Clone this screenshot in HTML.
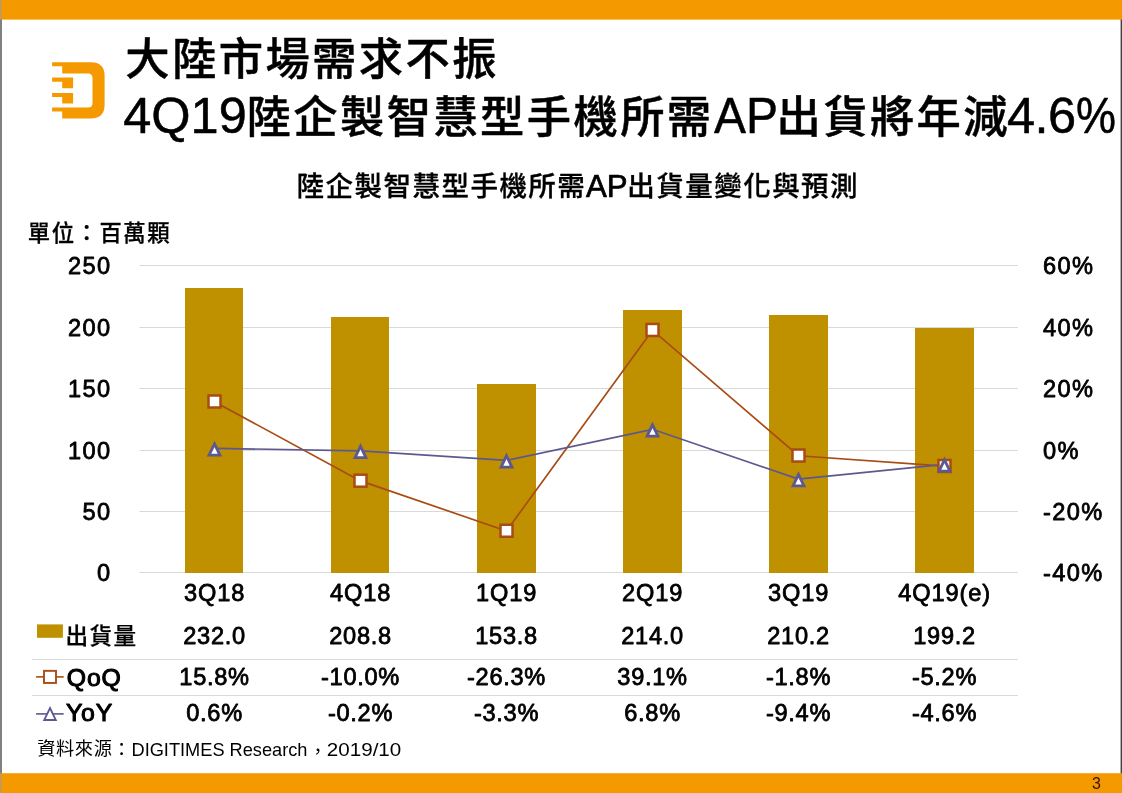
<!DOCTYPE html>
<html lang="zh-Hant">
<head>
<meta charset="utf-8">
<title>大陸市場需求不振 4Q19陸企製智慧型手機所需AP出貨將年減4.6%</title>
<style>
html,body{margin:0;padding:0;background:#fff;}
body{width:1122px;height:793px;overflow:hidden;position:relative;}
svg{display:block;position:absolute;left:0;top:0;}
text{font-family:"Liberation Sans","Noto Sans CJK TC",sans-serif;fill:#000;}
.cj{font-family:"Liberation Sans","Noto Sans CJK TC",sans-serif;font-weight:500;stroke:#000;stroke-linejoin:round;}
.lt{stroke:#000;stroke-linejoin:round;}
.ax{font-size:23.6px;letter-spacing:1.4px;stroke:#000;stroke-width:0.8;stroke-linejoin:round;}
</style>
</head>
<body>
<svg width="1122" height="793" viewBox="0 0 1122 793">
<rect x="0" y="0" width="1122" height="793" fill="#fff"/>
<rect x="0" y="0" width="2" height="793" fill="#808080"/>
<rect x="1120.6" y="0" width="1.4" height="793" fill="#404040"/>
<rect x="2" y="0" width="1120" height="19.6" fill="#F59900"/>
<rect x="0" y="0" width="2" height="19.6" fill="#C99A4A"/>
<rect x="2" y="773.2" width="1120" height="19.8" fill="#F59900"/>
<rect x="0" y="773.2" width="2" height="19.8" fill="#C99A4A"/>
<g fill="#F59900">
<path fill-rule="evenodd" d="M52.1 62.3 H91 Q104.6 62.3 104.6 76 V104.8 Q104.6 118.4 91 118.4 H62.2 V111.5 H52.1 V107.5 H88 Q92.5 107.5 92.5 103 V78 Q92.5 73.4 88 73.4 H62.2 V66.3 H52.1 Z"/>
<path d="M52.1 77.4 H73.1 V88.3 H62.2 V81.8 H52.1 Z"/>
<path d="M52.1 92.9 H73.1 V103.5 H62.2 V96.9 H52.1 Z"/>
</g>
<text x="125.3" y="75" style="font-size:44.3px;letter-spacing:2.4px;stroke-width:0.45" class="cj">大陸市場需求不振</text>
<text style="font-size:44.3px"><tspan x="123.2" y="133.4" class="lt" style="font-size:50.5px;stroke-width:0.5">4Q19</tspan><tspan x="246.6" y="133" class="cj" style="letter-spacing:2.4px;stroke-width:0.45">陸企製智慧型手機所需</tspan><tspan x="714" y="133.4" class="lt" style="font-size:50.5px;stroke-width:0.5" textLength="64" lengthAdjust="spacingAndGlyphs">AP</tspan><tspan x="776.5" y="133" class="cj" style="letter-spacing:2.4px;stroke-width:0.45">出貨將年減</tspan><tspan x="1007" y="133.4" class="lt" style="font-size:50.5px;stroke-width:0.5" textLength="69" lengthAdjust="spacing">4.6</tspan><tspan x="1076" y="133.4" class="lt" style="font-size:50.5px;stroke-width:0.5" textLength="40" lengthAdjust="spacingAndGlyphs">%</tspan></text>
<text style="font-size:27.5px"><tspan x="296.6" y="196" class="cj" style="letter-spacing:1.47px;stroke-width:0.3">陸企製智慧型手機所需</tspan><tspan x="586" y="196.5" class="lt" style="font-size:31.2px;stroke-width:0.7">AP</tspan><tspan x="627.3" y="196" class="cj" style="letter-spacing:1.47px;stroke-width:0.3">出貨量變化與預測</tspan></text>
<text x="27.8" y="241" class="cj" style="font-size:22.4px;letter-spacing:1.5px;stroke-width:0.25">單位：百萬顆</text>
<g fill="#D9D9D9">
<rect x="139.5" y="265" width="878.5" height="1"/>
<rect x="139.5" y="327" width="878.5" height="1"/>
<rect x="139.5" y="388" width="878.5" height="1"/>
<rect x="139.5" y="450" width="878.5" height="1"/>
<rect x="139.5" y="511" width="878.5" height="1"/>
<rect x="139.5" y="572" width="878.5" height="1"/>
</g>
<g fill="#BF9000">
<rect x="185" y="288" width="58" height="285"/>
<rect x="331" y="317" width="58" height="256"/>
<rect x="477" y="384" width="59" height="189"/>
<rect x="623" y="310" width="59" height="263"/>
<rect x="769" y="315" width="59" height="258"/>
<rect x="915" y="328" width="59" height="245"/>
</g>
<polyline points="214.50,401.69 360.50,480.90 506.50,530.94 652.50,330.16 798.50,455.73 944.50,466.16" fill="none" stroke="#A84C14" stroke-width="1.7"/>
<polyline points="214.50,448.36 360.50,450.81 506.50,460.33 652.50,429.32 798.50,479.06 944.50,464.32" fill="none" stroke="#5C5890" stroke-width="1.7"/>
<g fill="#fff" stroke="#A84C14" stroke-width="2.5">
<rect x="208.50" y="395.49" width="12" height="12"/>
<rect x="354.50" y="474.70" width="12" height="12"/>
<rect x="500.50" y="524.74" width="12" height="12"/>
<rect x="646.50" y="323.96" width="12" height="12"/>
<rect x="792.50" y="449.53" width="12" height="12"/>
<rect x="938.50" y="459.96" width="12" height="12"/>
</g>
<g fill="#fff" stroke="#5C5890" stroke-width="2.8" stroke-linejoin="miter">
<path d="M214.50 443.86 L219.95 455.16 L209.05 455.16 Z"/>
<path d="M360.50 446.31 L365.95 457.61 L355.05 457.61 Z"/>
<path d="M506.50 455.83 L511.95 467.13 L501.05 467.13 Z"/>
<path d="M652.50 424.82 L657.95 436.12 L647.05 436.12 Z"/>
<path d="M798.50 474.56 L803.95 485.86 L793.05 485.86 Z"/>
<path d="M944.50 459.82 L949.95 471.12 L939.05 471.12 Z"/>
</g>
<g class="ax">
<text x="111.6" y="274" text-anchor="end">250</text>
<text x="111.6" y="336" text-anchor="end">200</text>
<text x="111.6" y="397" text-anchor="end">150</text>
<text x="111.6" y="459" text-anchor="end">100</text>
<text x="111.6" y="520" text-anchor="end">50</text>
<text x="111.6" y="581" text-anchor="end">0</text>
<text x="1042.9" y="274">60%</text>
<text x="1042.9" y="336">40%</text>
<text x="1042.9" y="397">20%</text>
<text x="1042.9" y="459">0%</text>
<text x="1042.9" y="520">-20%</text>
<text x="1042.9" y="581">-40%</text>
<text x="214.65" y="601" text-anchor="middle" style="letter-spacing:0.9px">3Q18</text>
<text x="360.65" y="601" text-anchor="middle" style="letter-spacing:0.9px">4Q18</text>
<text x="506.65" y="601" text-anchor="middle" style="letter-spacing:0.9px">1Q19</text>
<text x="652.65" y="601" text-anchor="middle" style="letter-spacing:0.9px">2Q19</text>
<text x="798.65" y="601" text-anchor="middle" style="letter-spacing:0.9px">3Q19</text>
<text x="944.65" y="601" text-anchor="middle" style="letter-spacing:0.9px">4Q19(e)</text>
<text x="214.55" y="644" text-anchor="middle" style="letter-spacing:0.7px">232.0</text>
<text x="360.55" y="644" text-anchor="middle" style="letter-spacing:0.7px">208.8</text>
<text x="506.55" y="644" text-anchor="middle" style="letter-spacing:0.7px">153.8</text>
<text x="652.55" y="644" text-anchor="middle" style="letter-spacing:0.7px">214.0</text>
<text x="798.55" y="644" text-anchor="middle" style="letter-spacing:0.7px">210.2</text>
<text x="944.55" y="644" text-anchor="middle" style="letter-spacing:0.7px">199.2</text>
<text x="214.55" y="685" text-anchor="middle" style="letter-spacing:0.7px">15.8%</text>
<text x="360.55" y="685" text-anchor="middle" style="letter-spacing:0.7px">-10.0%</text>
<text x="506.55" y="685" text-anchor="middle" style="letter-spacing:0.7px">-26.3%</text>
<text x="652.55" y="685" text-anchor="middle" style="letter-spacing:0.7px">39.1%</text>
<text x="798.55" y="685" text-anchor="middle" style="letter-spacing:0.7px">-1.8%</text>
<text x="944.55" y="685" text-anchor="middle" style="letter-spacing:0.7px">-5.2%</text>
<text x="214.55" y="721" text-anchor="middle" style="letter-spacing:0.7px">0.6%</text>
<text x="360.55" y="721" text-anchor="middle" style="letter-spacing:0.7px">-0.2%</text>
<text x="506.55" y="721" text-anchor="middle" style="letter-spacing:0.7px">-3.3%</text>
<text x="652.55" y="721" text-anchor="middle" style="letter-spacing:0.7px">6.8%</text>
<text x="798.55" y="721" text-anchor="middle" style="letter-spacing:0.7px">-9.4%</text>
<text x="944.55" y="721" text-anchor="middle" style="letter-spacing:0.7px">-4.6%</text>
<text x="65.4" y="643.5" class="cj" style="font-size:22.6px;letter-spacing:1.4px;stroke-width:0.25">出貨量</text>
<text x="66.8" y="686" style="font-size:24.8px;letter-spacing:0.8px;stroke-width:1.1">QoQ</text>
<text x="66" y="721" style="font-size:24.8px;letter-spacing:0.8px;stroke-width:1.1">YoY</text>
</g>
<g fill="#D9D9D9">
<rect x="32" y="659" width="986" height="1"/>
<rect x="32" y="695" width="986" height="1"/>
</g>
<rect x="37" y="624.4" width="25.9" height="13.4" fill="#BF9000"/>
<line x1="36.1" y1="676.9" x2="63.7" y2="676.9" stroke="#A84C14" stroke-width="1.6"/>
<rect x="44" y="670.85" width="12" height="12.1" fill="#fff" stroke="#A84C14" stroke-width="1.9"/>
<line x1="36.1" y1="713.9" x2="63.7" y2="713.9" stroke="#5C5890" stroke-width="1.6"/>
<path d="M50 708 L55.8 720 L44.2 720 Z" fill="#fff" stroke="#5C5890" stroke-width="1.8"/>
<g style="fill:#1a1a1a">
<text style="font-size:18.2px;letter-spacing:0.65px"><tspan x="37.2" y="754.8">資料來源</tspan><tspan dy="1.6">：</tspan></text>
<text x="131.5" y="756" style="font-size:18.6px" textLength="176" lengthAdjust="spacingAndGlyphs">DIGITIMES Research</text>
<text x="308.8" y="757.8" style="font-size:18.2px">，</text>
<text x="326.8" y="756" style="font-size:18.6px" textLength="74.5" lengthAdjust="spacingAndGlyphs">2019/10</text>
</g>
<text x="1096.5" y="789" text-anchor="middle" style="font-size:16px;fill:#3a1200">3</text>
</svg>
</body>
</html>
